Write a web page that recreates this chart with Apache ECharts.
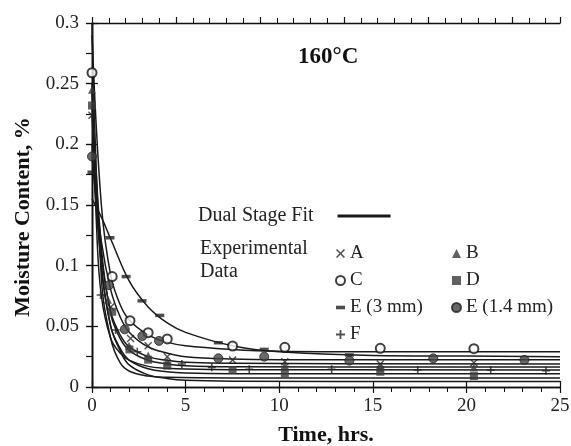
<!DOCTYPE html>
<html><head><meta charset="utf-8">
<script src="https://cdn.jsdelivr.net/npm/echarts@6/dist/echarts.min.js"></script>
<style>html,body{margin:0;padding:0;background:#fff}#c{width:571px;height:446px}</style>
</head><body><div id="c"></div><script>
// Experimental data [time (hrs), moisture content (%)]
const dataA  = [[0,0.224],[1.0,0.066],[2.06,0.040],[3.0,0.034],[4.02,0.025],[7.51,0.0223],[10.3,0.0209],[15.4,0.019],[20.4,0.020]];
const dataB  = [[0,0.245],[0.85,0.072],[1.98,0.034],[3.0,0.026],[4.02,0.021],[10.3,0.018],[15.4,0.016],[20.4,0.016]];
const dataC  = [[0,0.259],[1.08,0.091],[2.03,0.0547],[3.0,0.0448],[4.02,0.0396],[7.51,0.0338],[10.3,0.0327],[15.4,0.0319],[20.4,0.0316]];
const dataD  = [[0,0.232],[1.08,0.062],[2.0,0.031],[3.0,0.0225],[4.02,0.0176],[7.51,0.014],[10.3,0.0113],[15.4,0.0126],[20.4,0.009]];
const dataE3 = [[0,0.177],[0.96,0.123],[1.82,0.091],[2.67,0.071],[3.62,0.059],[6.75,0.0365],[9.2,0.031],[13.75,0.0264]];
const dataE14= [[0,0.190],[0.91,0.084],[1.75,0.0475],[2.69,0.042],[3.58,0.038],[6.75,0.0236],[9.2,0.025],[13.75,0.0217],[18.23,0.0236],[23.1,0.0223]];
const dataF  = [[0.46,0.0758],[1.26,0.047],[2.42,0.029],[4.8,0.019],[6.4,0.0162],[8.4,0.0146],[12.8,0.0146],[17.4,0.014],[21.3,0.014],[24.25,0.0134]];
// Dual stage fit curves
const fitC   = [[0,0.29],[0.5,0.15],[1,0.092],[1.5,0.068],[2,0.055],[3,0.043],[4,0.037],[5,0.034],[7.5,0.031],[10,0.0295],[15,0.029],[25,0.029]];
const fitE3  = [[0,0.155],[0.5,0.14],[1,0.122],[2,0.087],[3,0.066],[4,0.053],[5,0.045],[7.5,0.034],[10,0.029],[15,0.026],[20,0.0255],[25,0.025]];
const fitE14 = [[0,0.19],[0.5,0.12],[1,0.08],[1.5,0.058],[2,0.045],[3,0.033],[4,0.028],[5,0.025],[7.5,0.023],[10,0.0225],[25,0.0225]];
const fitA   = [[0,0.225],[0.5,0.11],[1,0.062],[1.5,0.043],[2,0.033],[3,0.025],[4,0.022],[5,0.0205],[7.5,0.0195],[25,0.019]];
const fitB   = [[0,0.245],[0.5,0.115],[1,0.06],[1.5,0.04],[2,0.03],[3,0.022],[4,0.019],[5,0.0175],[7.5,0.0167],[25,0.0165]];
const fitF   = [[0,0.25],[0.25,0.13],[0.5,0.075],[1,0.04],[1.5,0.028],[2,0.022],[3,0.017],[4,0.0155],[5,0.0148],[7.5,0.0143],[25,0.014]];
const fitD   = [[0,0.232],[0.5,0.1],[1,0.05],[1.5,0.032],[2,0.022],[3,0.015],[4,0.0125],[5,0.0115],[7.5,0.011],[25,0.011]];
const fitLow1= [[0,0.3],[0.5,0.09],[1,0.04],[1.5,0.02],[2,0.013],[3,0.009],[4,0.008],[7.5,0.0075],[25,0.0075]];
const fitLow2= [[0,0.2],[0.5,0.1],[1,0.05],[1.5,0.03],[2,0.018],[3,0.01],[4,0.007],[5,0.0055],[7.5,0.0048],[25,0.0045]];
const xTicks = [0,5,10,15,20,25];
const yTicks = [0,0.05,0.1,0.15,0.2,0.25,0.3];

const FONT = 'Liberation Serif';
const chart = echarts.init(document.getElementById('c'), null, {renderer:'canvas'});
const plusPath = 'path://M4,0H6V4H10V6H6V10H4V6H0V4H4Z';
const crossPath = 'path://M1.2,0L5,3.8L8.8,0L10,1.2L6.2,5L10,8.8L8.8,10L5,6.2L1.2,10L0,8.8L3.8,5L0,1.2Z';
const dashPath = 'path://M0,0H10V4H0Z';
const mk = '#3a3a3a';
const fits = [fitC, fitE3, fitE14, fitA, fitB, fitF, fitD, fitLow1, fitLow2];

const axisCommon = (extra) => Object.assign({
  type:'value', min:xTicks[0], max:xTicks[xTicks.length-1], interval:xTicks[1]-xTicks[0],
  axisLine:{show:true, onZero:false, lineStyle:{color:'#111', width:1.4}},
  splitLine:{show:false}
}, extra);

const option = {
  animation:false,
  backgroundColor:'#fff',
  grid:{left:92, right:11, top:23, bottom:59, containLabel:false, outerBoundsMode:'none'},
  xAxis:[
    axisCommon({position:'bottom', name:'Time, hrs.', nameLocation:'middle', nameGap:37,
      nameTextStyle:{fontFamily:FONT, fontWeight:'bold', fontSize:22, color:'#111'},
      axisTick:{show:true, inside:false, length:6, lineStyle:{color:'#111', width:1.2}},
      minorTick:{show:true, splitNumber:5, length:5, lineStyle:{color:'#111', width:1}},
      axisLabel:{fontFamily:FONT, fontSize:19, color:'#222', margin:10}}),
    axisCommon({position:'bottom',
      axisTick:{show:true, inside:true, length:6, lineStyle:{color:'#111', width:1.2}},
      minorTick:{show:false}, axisLabel:{show:false}}),
    axisCommon({position:'top', max:27.86,
      axisTick:{show:true, inside:false, length:6, lineStyle:{color:'#111', width:1.2}},
      minorTick:{show:true, splitNumber:5, length:5, lineStyle:{color:'#111', width:1}},
      axisLabel:{show:false}})
  ],
  yAxis:[
    {type:'value', min:yTicks[0], max:yTicks[yTicks.length-1], interval:0.05, position:'left',
      name:'Moisture Content, %', nameLocation:'middle', nameGap:58,
      nameTextStyle:{fontFamily:FONT, fontWeight:'bold', fontSize:22, color:'#111', padding:[0,24,0,0]},
      axisLine:{show:true, lineStyle:{color:'#111', width:1.4}},
      axisTick:{show:true, inside:false, length:6, lineStyle:{color:'#111', width:1.2}},
      minorTick:{show:true, splitNumber:2, length:4, lineStyle:{color:'#111', width:1}},
      axisLabel:{fontFamily:FONT, fontSize:19, color:'#222', margin:13},
      splitLine:{show:false}},
    {type:'value', min:0, max:0.3, interval:0.05, position:'left',
      axisLine:{show:true, lineStyle:{color:'#111', width:1.4}},
      axisTick:{show:true, inside:true, length:6, lineStyle:{color:'#111', width:1.2}},
      minorTick:{show:false}, axisLabel:{show:false}, splitLine:{show:false}},
    {type:'value', min:0, max:0.3, interval:0.025, position:'right',
      axisLine:{show:true, lineStyle:{color:'#111', width:1.4}},
      axisTick:{show:true, inside:true, length:6, lineStyle:{color:'#111', width:1.2}},
      minorTick:{show:false}, axisLabel:{show:false}, splitLine:{show:false}}
  ],
  legend:[
    {left:193, top:201, orient:'horizontal', align:'right', itemWidth:53, itemHeight:3,
      data:[{name:'Dual Stage Fit', icon:'rect'}],
      textStyle:{fontFamily:FONT, fontSize:20, color:'#222', padding:[0,19,0,0]}, selectedMode:false},
    {left:330, top:238, orient:'vertical', itemGap:6, itemWidth:9, itemHeight:9,
      data:[{name:'A', icon:crossPath},{name:'C', icon:'emptyCircle'},{name:'E (3 mm)', icon:dashPath},{name:'F', icon:plusPath}],
      textStyle:{fontFamily:FONT, fontSize:19, color:'#222', lineHeight:21}, selectedMode:false},
    {left:446, top:238, orient:'vertical', itemGap:6, itemWidth:9, itemHeight:9,
      data:[{name:'B', icon:'triangle'},{name:'D', icon:'rect'},{name:'E (1.4 mm)', icon:'circle'}],
      textStyle:{fontFamily:FONT, fontSize:19, color:'#222', lineHeight:21}, selectedMode:false}
  ],
  graphic:[
    {type:'text', left:298, top:46, style:{text:'160°C', font:'bold 23px "Liberation Serif"', fill:'#111'}},
    {type:'text', left:200, top:239, style:{text:'Experimental', font:'20px "Liberation Serif"', fill:'#222'}},
    {type:'text', left:200, top:262, style:{text:'Data', font:'20px "Liberation Serif"', fill:'#222'}}
  ],
  series:[]
};

fits.forEach(f => option.series.push({
  name:'Dual Stage Fit', type:'line', data:f, smooth:0.4, showSymbol:false, symbol:'none',
  lineStyle:{color:'#1a1a1a', width:1.5}, itemStyle:{color:'#1a1a1a'}, z:2
}));
const sc = (name, data, symbol, size, style) => ({name, type:'scatter', data, symbol, symbolSize:size,
  itemStyle:style, z:5});
option.series.push(
  sc('A', dataA, crossPath, 8, {color:'#222'}),
  sc('B', dataB, 'triangle', 8, {color:mk}),
  sc('C', dataC, 'emptyCircle', 9, {color:'#111', borderWidth:1.6, borderColor:'#111'}),
  sc('D', dataD, 'rect', 8, {color:mk}),
  sc('E (3 mm)', dataE3, 'rect', [9,3.5], {color:'#222'}),
  sc('E (1.4 mm)', dataE14, 'circle', 9, {color:'#444', borderColor:'#222', borderWidth:1}),
  sc('F', dataF, plusPath, 8, {color:'#222'})
);
chart.setOption(option);
</script></body></html>
